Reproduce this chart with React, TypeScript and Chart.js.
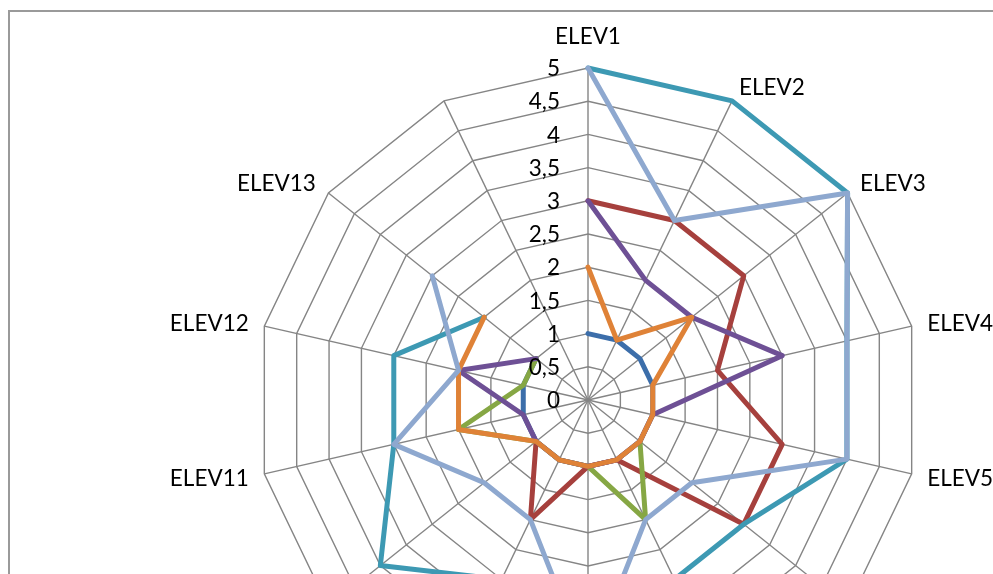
import React, { useEffect, useRef } from "react";
import { Chart, registerables } from "chart.js";

Chart.register(...registerables);

const categories = [
  "ELEV1", "ELEV2", "ELEV3", "ELEV4", "ELEV5", "ELEV6", "ELEV7",
  "ELEV8", "ELEV9", "ELEV10", "ELEV11", "ELEV12", "ELEV13", "",
];

const tickValues = [0, 0.5, 1, 1.5, 2, 2.5, 3, 3.5, 4, 4.5, 5];

const series1 = [1, 1, 1, 1, 1, 1, 1, 1, 1, 1, 1, 1, 1, null];
const series2 = [3, 3, 3, 2, 3, 3, 1, 1, 2, 1, null, null, null, null];
const series3 = [null, null, null, null, null, 1, 2, 1, 1, 1, 2, 1, 1, null];
const series4 = [3, 2, 2, 3, 1, 1, 1, 1, 1, 1, 1, 2, 1, null];
const series5 = [5, 5, 5, 4, 4, 3, 3, 3, 3, 4, 3, 3, 2, null];
const series6 = [2, 1, 2, 1, 1, 1, 1, 1, 1, 1, 2, 2, 2, null];
const series7 = [5, 3, 5, 4, 4, 2, 2, 4, 2, 2, 3, 2, 3, null];

const seriesNames = ["Série1", "Série2", "Série3", "Série4", "Série5", "Série6", "Série7"];
const seriesColors = ["#3C6EAA", "#A6403D", "#86A744", "#6E5095", "#3D99B3", "#DF8237", "#8EA8CF"];

const FONT_FAMILY = "Lato, 'Open Sans', sans-serif";
const FONT_SIZE = 22.5;
const GRID_COLOR = "#858585";

const labelPlugin = {
  id: "customLabels",
  afterDraw(chart: any) {
    const scale = chart.scales.r;
    const ctx = chart.ctx;
    ctx.save();
    ctx.font = `${FONT_SIZE}px ${FONT_FAMILY}`;
    ctx.fillStyle = "#000000";
    ctx.textAlign = "right";
    ctx.textBaseline = "middle";
    tickValues.forEach((v) => {
      const d = scale.getDistanceFromCenterForValue(v);
      ctx.fillText(String(v).replace(".", ","), scale.xCenter - 28, scale.yCenter - d + 1);
    });
    categories.forEach((lab, i) => {
      if (!lab) return;
      const p = scale.getPointPosition(i, scale.drawingArea + 16);
      const ang = p.angle + Math.PI / 2;
      const s = Math.sin(ang);
      const c = Math.cos(ang);
      const x = p.x;
      let y = p.y;
      if (Math.abs(s) < 0.01) {
        ctx.textAlign = "center";
        y += c > 0 ? -16 : 16;
      } else if (s > 0) {
        ctx.textAlign = "left";
      } else {
        ctx.textAlign = "right";
      }
      ctx.fillText(lab, x, y + 1);
    });
    ctx.restore();
  },
};

export default function App() {
  const canvasRef = useRef<HTMLCanvasElement | null>(null);

  useEffect(() => {
    const canvas = canvasRef.current;
    if (!canvas) return;
    const all = [series1, series2, series3, series4, series5, series6, series7];
    const chart = new Chart(canvas, {
      type: "radar",
      data: {
        labels: categories,
        datasets: all.map((d, i) => ({
          label: seriesNames[i],
          data: d,
          borderColor: seriesColors[i],
          backgroundColor: "transparent",
          borderWidth: 5,
          pointRadius: 0,
          pointHoverRadius: 0,
          fill: false,
          tension: 0,
          spanGaps: false,
          borderJoinStyle: "round",
          borderCapStyle: "round",
          order: all.length - i,
        })),
      },
      options: {
        responsive: false,
        animation: false,
        layout: { padding: { left: 246, top: 56, right: 190, bottom: 160 } },
        plugins: {
          legend: { display: false },
          tooltip: { enabled: false },
          title: { display: false },
        },
        scales: {
          r: {
            min: 0,
            max: 5,
            beginAtZero: true,
            ticks: { stepSize: 0.5, display: false },
            grid: { color: GRID_COLOR, lineWidth: 1.4, circular: false },
            angleLines: { color: GRID_COLOR, lineWidth: 1.4 },
            pointLabels: { display: false },
          },
        },
      },
      plugins: [labelPlugin],
    });
    return () => chart.destroy();
  }, []);

  return (
    <div
      style={{
        position: "fixed",
        left: 0,
        top: 0,
        width: 993,
        height: 574,
        overflow: "hidden",
        background: "#ffffff",
      }}
    >
      <div
        style={{
          position: "absolute",
          left: 8,
          top: 10,
          width: 1100,
          height: 880,
          border: "2px solid #9a9a9a",
        }}
      >
        <canvas
          ref={canvasRef}
          width={1100}
          height={880}
          style={{ width: 1100, height: 880, display: "block" }}
        />
      </div>
    </div>
  );
}
